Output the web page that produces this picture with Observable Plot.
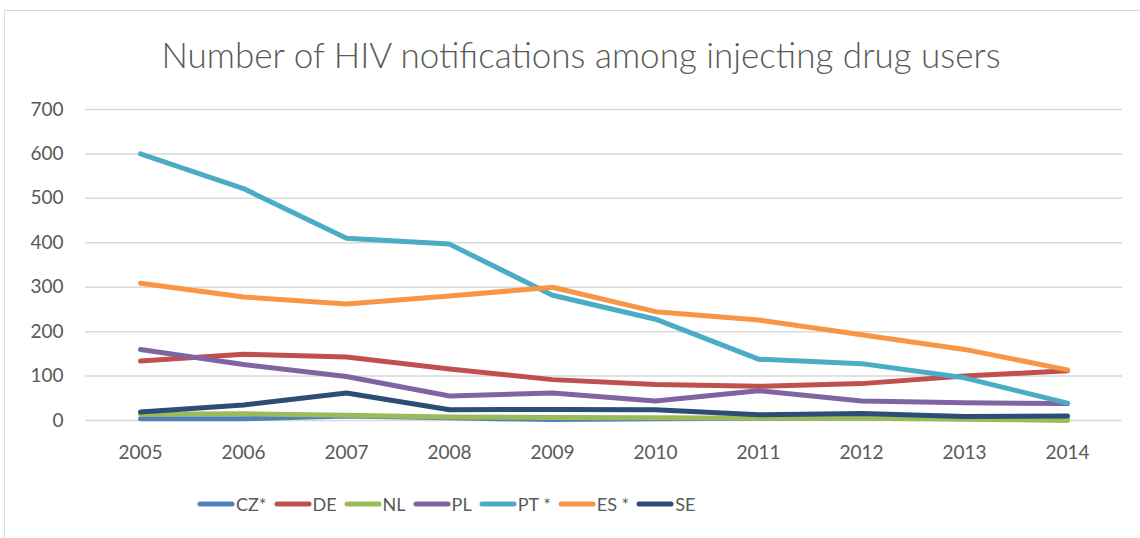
<!DOCTYPE html>
<html><head><meta charset="utf-8">
<script src="https://cdn.jsdelivr.net/npm/d3@7"></script>
<script src="https://cdn.jsdelivr.net/npm/@observablehq/plot@0.6"></script>
<style>
body{margin:0;background:#fff;font-family:Lato,"Open Sans",sans-serif;overflow:hidden}
#wrap{position:relative;width:1140px;height:538px;overflow:hidden}
#frame{position:absolute;left:4px;top:10px;width:1200px;height:600px;border:1.5px solid #d9d9d9;box-sizing:border-box}
#title{position:absolute;left:0;top:33px;width:1162px;text-align:center;font-size:35px;font-weight:300;color:#595959;white-space:nowrap}
#chart{position:absolute;left:0;top:90px}
#legend{position:absolute;left:197px;top:493px;display:flex;align-items:center;font-size:18px;color:#595959}
.item{display:flex;align-items:center;margin-right:7px}
.item svg{margin-right:1px}
</style></head>
<body><div id="wrap"><div id="frame"></div><div id="title">Number of HIV notifications among injecting drug users</div><div id="chart"></div><div id="legend"></div></div>
<script>
const years = [2005, 2006, 2007, 2008, 2009, 2010, 2011, 2012, 2013, 2014];
const seriesNames = ["CZ*", "DE", "NL", "PL", "PT *", "ES *", "SE"];
const seriesColors = ["#4F81BD", "#C0504D", "#9BBB59", "#8064A2", "#4BACC6", "#F79646", "#2C4D75"];
const CZ = [4, 4, 10, 6, 2, 4, 5, 6, 5, 3];
const DE = [134, 149, 143, 116, 92, 81, 77, 83, 100, 112];
const NL = [14, 15, 12, 8, 7, 6, 5, 5, 3, 0];
const PL = [160, 126, 99, 55, 62, 44, 67, 44, 40, 38];
const PT = [600, 522, 410, 397, 282, 228, 138, 128, 96, 39];
const ES = [309, 278, 262, 280, 300, 245, 226, 193, 160, 114];
const SE = [19, 35, 62, 24, 25, 24, 13, 16, 9, 10];
const yTicks = [0, 100, 200, 300, 400, 500, 600, 700];

const valuesBySeries = [CZ, DE, NL, PL, PT, ES, SE];
const rows = [];
seriesNames.forEach((s, i) => years.forEach((y, j) => rows.push({series: s, year: String(y), value: valuesBySeries[i][j]})));

const chart = Plot.plot({
  width: 1140, height: 380,
  marginLeft: 85, marginRight: 18, marginTop: 19, marginBottom: 50,
  style: {fontFamily: "Lato, 'Open Sans', sans-serif", fontSize: "19px", color: "#595959", background: "transparent", overflow: "visible"},
  x: {type: "point", domain: years.map(String), padding: 0.5, label: null},
  y: {domain: [0, 700], label: null},
  color: {domain: seriesNames, range: seriesColors},
  marks: [
    Plot.ruleY(yTicks, {stroke: "#d9d9d9", strokeWidth: 1.5}),
    Plot.axisY({ticks: yTicks, tickSize: 0, tickPadding: 22, label: null, fill: "#595959"}),
    Plot.axisX({tickSize: 0, tickPadding: 25, label: null, fill: "#595959"}),
    Plot.line(rows, {x: "year", y: "value", z: "series", stroke: "series", strokeWidth: 5, strokeLinecap: "round", strokeLinejoin: "round"})
  ]
});
document.getElementById("chart").appendChild(chart);

const leg = document.getElementById("legend");
seriesNames.forEach((s, i) => {
  const it = document.createElement("div"); it.className = "item";
  it.innerHTML = `<svg width="38" height="8"><line x1="3" y1="4" x2="35" y2="4" stroke="${seriesColors[i]}" stroke-width="5" stroke-linecap="round"/></svg><span>${s}</span>`;
  leg.appendChild(it);
});
</script></body></html>
